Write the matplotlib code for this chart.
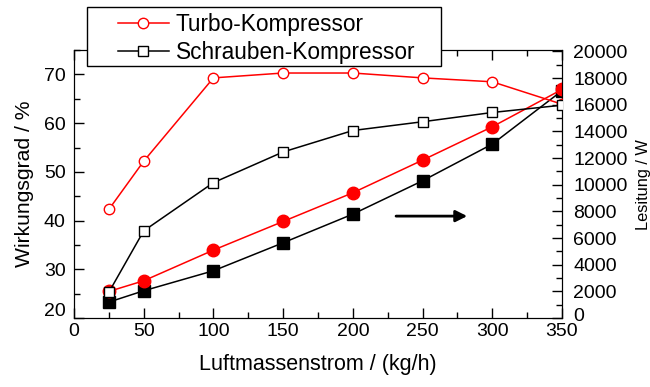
import matplotlib.pyplot as plt
from matplotlib.ticker import MultipleLocator
from matplotlib.patches import Rectangle
from matplotlib.transforms import ScaledTranslation

plt.rcParams['font.family'] = ['Liberation Sans', 'DejaVu Sans']

flow = [25, 50, 100, 150, 200, 250, 300, 350]

# Wirkungsgrad / %
turbo_eff = [42.3, 52.2, 69.3, 70.3, 70.3, 69.3, 68.5, 63.9]
screw_eff = [25.3, 37.9, 47.8, 54.1, 58.5, 60.3, 62.2, 63.7]

# Leistung / W
turbo_pow = [2000, 2800, 5100, 7250, 9400, 11850, 14350, 17150]
screw_pow = [1200, 2050, 3550, 5650, 7800, 10300, 13050, 17050]

fig = plt.figure(figsize=(6.5, 3.87), dpi=100)
ax = fig.add_axes([0.1138, 0.178, 0.7508, 0.6925])
ax2 = ax.twinx()

l1, = ax.plot(flow, turbo_eff, '-o', color='red', lw=1.1, ms=7.5,
              mfc='white', mec='red', mew=1, zorder=3)
l2, = ax.plot(flow, screw_eff, '-s', color='black', lw=1.1, ms=7,
              mfc='white', mec='black', mew=1, zorder=3)
ax2.plot(flow, turbo_pow, '-o', color='red', lw=1.1, ms=9, mfc='red', mec='red', zorder=4)
ax2.plot(flow, screw_pow, '-s', color='black', lw=1.1, ms=8, mfc='black', mec='black', zorder=3)
ax.set_zorder(ax2.get_zorder() + 1)
ax.patch.set_visible(False)

ax2.annotate('', xy=(284, 7650), xytext=(229, 7650),
             arrowprops=dict(arrowstyle='-|>', color='black', lw=2,
                             mutation_scale=17))

ax.set_xlim(0, 350)
ax.set_ylim(20, 75)
ax2.set_ylim(0, 20100)

ax.xaxis.set_major_locator(MultipleLocator(50))
ax.xaxis.set_minor_locator(MultipleLocator(25))
ax.yaxis.set_major_locator(MultipleLocator(10))
ax.yaxis.set_minor_locator(MultipleLocator(5))
ax2.yaxis.set_major_locator(MultipleLocator(2000))
ax2.yaxis.set_minor_locator(MultipleLocator(1000))

for a in (ax, ax2):
    a.tick_params(which='both', direction='in', labelsize=14)
    a.tick_params(which='major', length=7, width=1)
    a.tick_params(which='minor', length=4, width=1)
ax.tick_params(which='both', top=True)
ax.tick_params(axis='y', pad=6)
ax2.tick_params(axis='y', pad=8)
ax.set_yticks([20, 30, 40, 50, 60, 70])
ax2.set_yticks(range(0, 20001, 2000))

ax.set_xlabel('Luftmassenstrom / (kg/h)', fontsize=15.5, labelpad=10)
ax.set_ylabel('Wirkungsgrad / %', fontsize=15.2, labelpad=7)
ax2.set_ylabel('Lesitung / W', fontsize=11.8, labelpad=6)

# lift the lowest labels a little, as in the original
lbl = ax.get_yticklabels()[0]
lbl.set_transform(lbl.get_transform() + ScaledTranslation(0, 9 / 100, fig.dpi_scale_trans))
lbl = ax2.get_yticklabels()[0]
lbl.set_transform(lbl.get_transform() + ScaledTranslation(0, 4 / 100, fig.dpi_scale_trans))

leg = fig.legend([l1, l2], ['Turbo-Kompressor', 'Schrauben-Kompressor'],
                 loc='upper left', bbox_to_anchor=(118 / 650, 1 - 13 / 387),
                 borderaxespad=0, borderpad=0, fontsize=16.3, handlelength=2.25,
                 handletextpad=0.3, labelspacing=0.2, frameon=False)
leg.set_zorder(7)
fig.add_artist(Rectangle((87 / 650, 1 - 66 / 387), 354 / 650, 59 / 387,
                         transform=fig.transFigure, facecolor='white',
                         edgecolor='black', lw=1, zorder=6))

fig.savefig('out.png', dpi=100)
